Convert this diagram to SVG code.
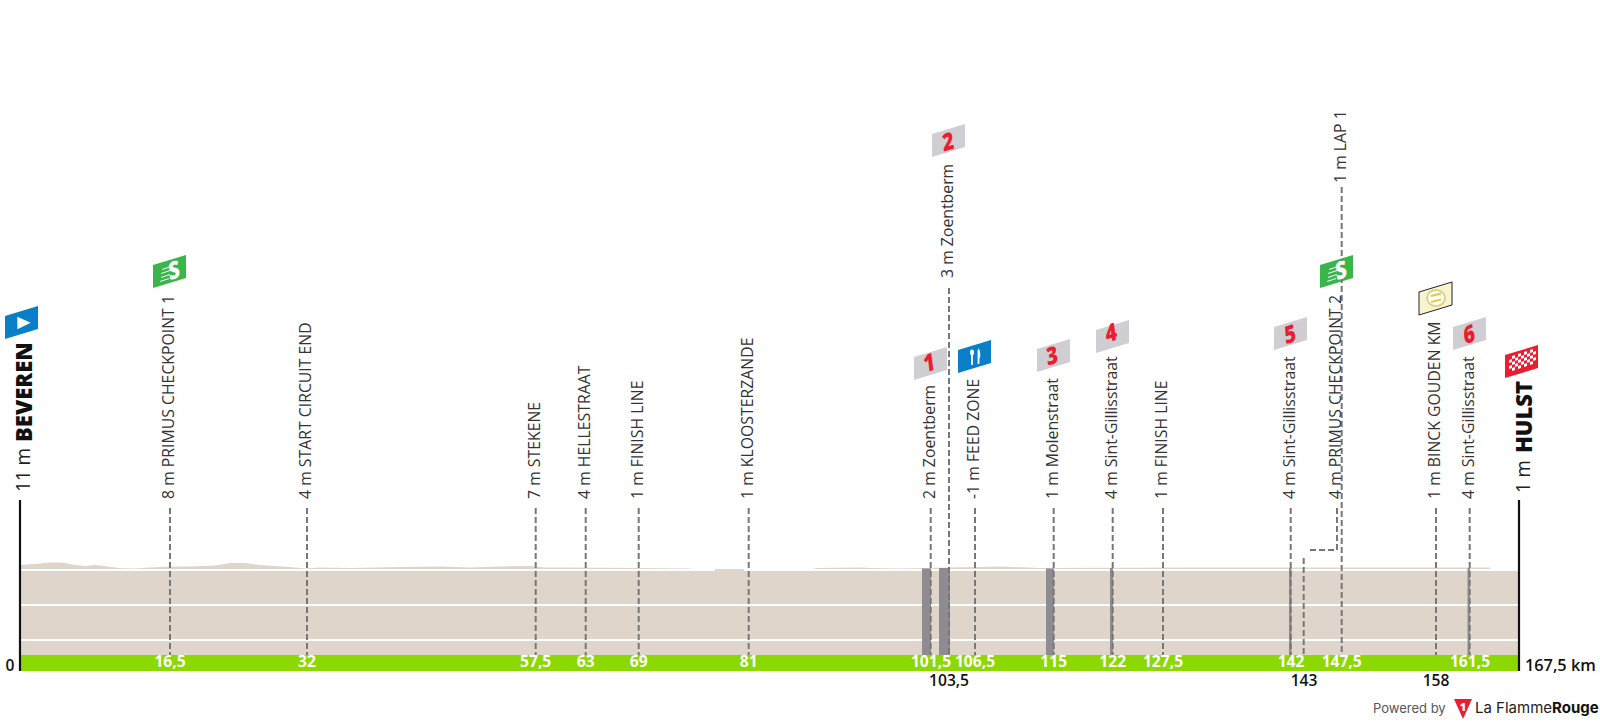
<svg xmlns="http://www.w3.org/2000/svg" width="1600" height="725" viewBox="0 0 1600 725">
<style>
text{font-family:"Open Sans","Noto Sans",sans-serif}
.lb{font-size:15.8px;fill:#333}
.big{font-size:20px;fill:#222}
.town{font-size:22px;font-weight:800;fill:#111}
.km{font-size:15.6px;font-weight:700;fill:#fff;text-anchor:middle}
.kb{font-size:15.6px;font-weight:600;fill:#111;text-anchor:middle}
.num{font-size:24px;font-weight:800;fill:#ed1c2e;text-anchor:middle}
.sp{font-size:24px;font-weight:800;fill:#fff;text-anchor:middle}
.d{fill:none;stroke:#777;stroke-width:2;stroke-dasharray:6 3}
.e{fill:none;stroke:#111;stroke-width:2.2}
.w{stroke:#fff;stroke-width:2;fill:none}
.g{fill:#8f8c91}
</style>
<defs>
<path id="f" d="M0 10L33 0V23L0 33Z"/>
<clipPath id="fc"><use href="#f"/></clipPath>
<g id="speed"><path d="M9 14.5L18 11.5M8 18.5L17 15.5M8 22.5L17 19.5M7 26.5L16 23.5" stroke="#fff" stroke-width="1" fill="none"/></g>
</defs>
<g id="profile">
<path fill="#dfd5cb" d="M20 565L40 563.5L50 562.5L62 562.5L72 564.5L85 566L95 565L105 566L118 568L135 568.5L150 567.5L170 566.5L190 566.5L215 565.5L230 563L245 563L260 565L275 566L290 567L305 568.5L320 567.5L350 568L400 567L440 566.5L470 567.5L500 566.5L530 566L545 567.5L570 567.5L640 568L690 568.5L692 571H757V571L813 571L815 568L860 567.5L872 568L900 568.5L1000 566.5L1040 568L1200 567.5L1300 567.5L1490 567.5V655H20Z"/>
<rect x="20" y="571" width="1499" height="84" fill="#dfd5cb"/>
<path class="w" d="M20 570H715M744 570H1519M20 605H1519M20 640H1519"/>
<rect x="715" y="569" width="29" height="3" fill="#dfd5cb"/>
<rect class="g" x="922" y="568.5" width="9" height="86.5"/>
<rect class="g" x="939" y="568" width="11" height="87"/>
<rect class="g" x="1046" y="568.5" width="8" height="86.5"/>
<rect class="g" x="1110" y="568" width="3" height="87"/>
<rect class="g" x="1289" y="568" width="2.5" height="87"/>
<rect class="g" x="1467.5" y="568" width="2.5" height="87"/>
<rect x="20" y="655" width="1499" height="16" fill="#8bd900"/>
</g>
<g id="flag-shapes">
<use href="#f" x="5" y="306" fill="#0a7fc9"/>
<use href="#f" x="153" y="255" fill="#39b54a"/>
<use href="#f" x="914" y="347" fill="#d1ced3"/>
<use href="#f" x="932" y="124" fill="#d1ced3"/>
<use href="#f" x="958" y="340" fill="#0a7fc9"/>
<use href="#f" x="1037" y="339" fill="#d1ced3"/>
<use href="#f" x="1096" y="320" fill="#d1ced3"/>
<use href="#f" x="1274" y="317" fill="#d1ced3"/>
<use href="#f" x="1320" y="255" fill="#39b54a"/>
<use href="#f" x="1419" y="282" fill="#f8f5d0" stroke="#222" stroke-width="1"/>
<use href="#f" x="1453" y="317" fill="#d1ced3"/>
<use href="#f" x="1505" y="345" fill="#ed1c2e"/>
</g>
<g id="connectors">
<path class="e" d="M20 500V671M1519 500V671"/>
<path class="d" d="M170 508V655M307 508V655M535.7 508V655M585.7 508V655M638.7 508V655M748.7 508V655M930.7 508V655M949 288V655M975 508V655M1053.7 508V655M1112.7 508V655M1163 508V655M1290.7 508V655M1303.7 558V655M1310 550H1337V508M1341.7 187V655M1436 508V655M1469.7 508V655"/>
</g>
<g id="start">
<path d="M17.3 316.7V329.3L30.7 322.7Z" fill="#fff"/>
<text class="big" textLength="44" lengthAdjust="spacingAndGlyphs" transform="translate(30 492) rotate(-90)">11 m</text>
<text class="town" transform="translate(32 442) rotate(-90)">BEVEREN</text>
</g>
<g id="cp1">
<use href="#speed" x="153" y="255"/>
<text class="sp" transform="matrix(.8 -.24 .12 1 175 278.5)">S</text>
<text class="lb" transform="translate(174 499) rotate(-90)">8 m PRIMUS CHECKPOINT 1</text>
</g>
<g id="n-circuit-end"><text class="lb" transform="translate(311 499) rotate(-90)">4 m START CIRCUIT END</text></g>
<g id="n-stekene"><text class="lb" transform="translate(540 499) rotate(-90)">7 m STEKENE</text></g>
<g id="n-hellestraat"><text class="lb" transform="translate(590 499) rotate(-90)">4 m HELLESTRAAT</text></g>
<g id="n-finish1"><text class="lb" transform="translate(643 499) rotate(-90)">1 m FINISH LINE</text></g>
<g id="n-kloosterzande"><text class="lb" transform="translate(753 499) rotate(-90)">1 m KLOOSTERZANDE</text></g>
<g id="n-zoentberm1">
<text class="num" transform="matrix(.8 -.24 .12 1 930 371)">1</text>
<text class="lb" transform="translate(935 499) rotate(-90)">2 m Zoentberm</text></g>
<g id="n-zoentberm2">
<text class="num" transform="matrix(.8 -.24 .12 1 949 150)">2</text>
<text class="lb" transform="translate(953 278) rotate(-90)">3 m Zoentberm</text></g>
<g id="n-feed">
<path d="M972 353V365M978.5 350V364" stroke="#fff" stroke-width="1.8" fill="none"/>
<ellipse cx="972" cy="352.5" rx="2" ry="3" fill="#fff"/>
<path d="M978 348Q981 351 980 358H978Z" fill="#fff"/>
<text class="lb" transform="translate(979 499) rotate(-90)">-1 m FEED ZONE</text></g>
<g id="n-molenstraat">
<text class="num" transform="matrix(.8 -.24 .12 1 1053 364)">3</text>
<text class="lb" transform="translate(1058 499) rotate(-90)">1 m Molenstraat</text></g>
<g id="n-sint1">
<text class="num" transform="matrix(.8 -.24 .12 1 1112 341)">4</text>
<text class="lb" transform="translate(1117 499) rotate(-90)">4 m Sint-Gillisstraat</text></g>
<g id="n-finish2"><text class="lb" transform="translate(1167 499) rotate(-90)">1 m FINISH LINE</text></g>
<g id="n-sint2">
<text class="num" transform="matrix(.8 -.24 .12 1 1291 342.5)">5</text>
<text class="lb" transform="translate(1295 499) rotate(-90)">4 m Sint-Gillisstraat</text></g>
<g id="n-cp2">
<use href="#speed" x="1320" y="255"/>
<text class="sp" transform="matrix(.8 -.24 .12 1 1342 278.5)">S</text>
<text class="lb" transform="translate(1341 499) rotate(-90)">4 m PRIMUS CHECKPOINT 2</text></g>
<g id="n-lap"><text class="lb" transform="translate(1346 183) rotate(-90)">1 m LAP 1</text></g>
<g id="n-binck">
<ellipse cx="1436" cy="298" rx="9" ry="8" fill="#fff" stroke="#dcd28a" stroke-width="2"/>
<path d="M1431 296L1441 293.5M1431 302L1441 299.5" stroke="#e8c93a" stroke-width="2"/>
<text class="lb" transform="translate(1440 499) rotate(-90)">1 m BINCK GOUDEN KM</text></g>
<g id="n-sint3">
<text class="num" transform="matrix(.8 -.24 .12 1 1470 342.5)">6</text>
<text class="lb" transform="translate(1474 499) rotate(-90)">4 m Sint-Gillisstraat</text></g>
<g id="finish">
<g clip-path="url(#fc)" transform="translate(1505 345)" fill="#fff">
<path d="M7 11l3-1v3l-3 1zM13 9l3-1v3l-3 1zM19 7l3-1v3l-3 1zM25 5l3-1v3l-3 1zM4 15l3-1v3l-3 1zM10 13l3-1v3l-3 1zM16 11l3-1v3l-3 1zM22 9l3-1v3l-3 1zM28 7l3-1v3l-3 1zM7 17l3-1v3l-3 1zM13 15l3-1v3l-3 1zM19 13l3-1v3l-3 1zM25 11l3-1v3l-3 1zM4 21l3-1v3l-3 1zM10 19l3-1v3l-3 1zM16 17l3-1v3l-3 1zM22 15l3-1v3l-3 1zM28 13l3-1v3l-3 1zM7 23l3-1v3l-3 1zM13 21l3-1v3l-3 1zM19 19l3-1v3l-3 1zM25 17l3-1v3l-3 1z"/>
</g>
<text class="big" textLength="33" lengthAdjust="spacingAndGlyphs" transform="translate(1530 493) rotate(-90)">1 m</text>
<text class="town" transform="translate(1532 453) rotate(-90)">HULST</text>
</g>
<g id="km-labels">
<text class="km" x="170" y="667">16,5</text>
<text class="km" x="307" y="667">32</text>
<text class="km" x="535.7" y="667">57,5</text>
<text class="km" x="585.7" y="667">63</text>
<text class="km" x="638.7" y="667">69</text>
<text class="km" x="748.7" y="667">81</text>
<text class="km" x="931" y="667">101,5</text>
<text class="km" x="975" y="667">106,5</text>
<text class="km" x="1053.7" y="667">115</text>
<text class="km" x="1112.7" y="667">122</text>
<text class="km" x="1163" y="667">127,5</text>
<text class="km" x="1291" y="667">142</text>
<text class="km" x="1341.7" y="667">147,5</text>
<text class="km" x="1470" y="667">161,5</text>
<text class="kb" x="949" y="686">103,5</text>
<text class="kb" x="1304" y="686">143</text>
<text class="kb" x="1436" y="686">158</text>
<text class="kb" x="10" y="671">0</text>
<text x="1525" y="671" style="font-size:16.3px;font-weight:600;fill:#111">167,5 km</text>
</g>
<g id="logo">
<text x="1373" y="713" style="font-family:Inter,sans-serif;font-size:13px;fill:#555">Powered by</text>
<path d="M1454 699H1472L1463 719Z" fill="#ed1c2e"/>
<text x="1463" y="711" text-anchor="middle" style="font-size:11px;font-weight:800;fill:#fff">1</text>
<text x="1475" y="713" style="font-family:Inter,sans-serif;font-size:15px;fill:#222">La Flamme<tspan font-weight="700" fill="#111">Rouge</tspan></text>
</g>
</svg>
